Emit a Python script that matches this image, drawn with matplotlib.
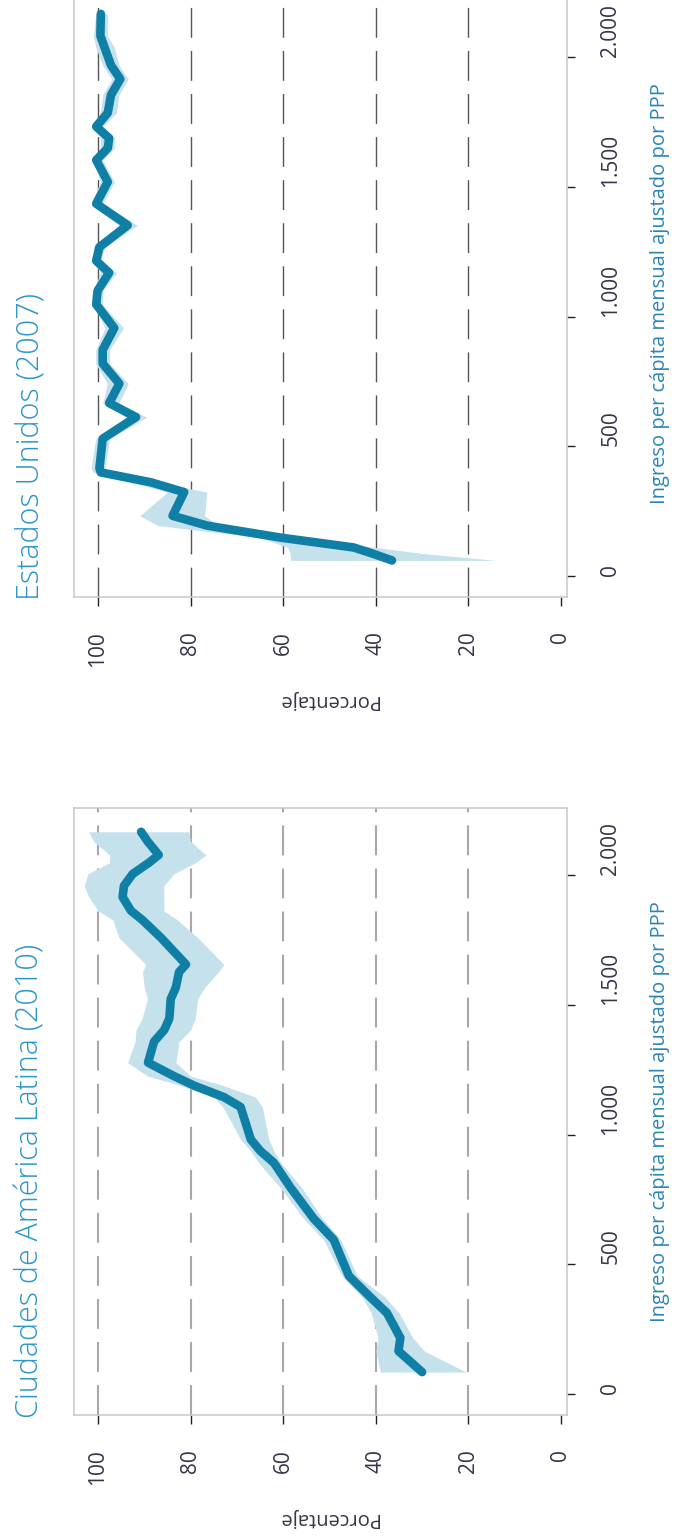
import matplotlib
matplotlib.use("Agg")
import matplotlib.pyplot as plt

plt.rcParams["font.family"] = ["Open Sans", "DejaVu Sans"]
plt.rcParams["lines.scale_dashes"] = False

# ── ejes ─────────────────────────────────────────────────────────────────
PCT_TICKS = [0, 20, 40, 60, 80, 100]
PCT_LABELS = ["0", "20", "40", "60", "80", "100"]
INC_TICKS = [0, 500, 1000, 1500, 2000]
INC_LABELS = ["0", "500", "1.000", "1.500", "2.000"]

# ── Ciudades de América Latina (2010) ────────────────────────────────────
al_ingreso = [85, 166, 217, 313, 374, 455, 595, 676, 795, 891, 936, 981,
              1106, 1144, 1188, 1225, 1277, 1358, 1403, 1447, 1522, 1566,
              1626, 1655, 1758, 1826, 1862, 1915, 1958, 2004, 2047, 2077,
              2129, 2166]
al_pct = [30.0, 35.1, 34.7, 37.6, 41.2, 45.8, 49.1, 53.4, 58.4, 62.0, 64.9,
          67.0, 69.2, 72.8, 79.2, 83.6, 89.2, 87.9, 85.7, 84.6, 84.3, 83.2,
          82.5, 81.0, 86.4, 90.4, 92.9, 94.7, 94.4, 92.5, 89.0, 86.9, 89.3,
          90.7]
al_sup = [39.0, 40.0, 39.5, 41.0, 43.0, 47.3, 51.3, 55.6, 60.6, 65.3, 67.0,
          69.2, 73.0, 75.0, 82.0, 89.3, 93.6, 92.0, 91.8, 90.5, 89.3, 90.0,
          90.4, 89.7, 95.5, 96.8, 100.0, 102.0, 103.0, 102.2, 97.5, 97.5,
          101.0, 102.0]
al_inf = [20.5, 29.5, 32.0, 35.0, 38.0, 44.0, 47.6, 51.5, 56.0, 60.5, 62.0,
          63.1, 64.5, 66.0, 72.8, 80.0, 83.2, 82.5, 80.0, 79.0, 78.5, 77.0,
          74.0, 72.8, 78.5, 82.8, 85.8, 85.8, 85.8, 83.6, 79.0, 76.7, 80.0,
          80.4]

# ── Estados Unidos (2007) ────────────────────────────────────────────────
us_ingreso = [61, 88, 111, 149, 195, 233, 324, 362, 400, 416, 530, 613, 667,
              742, 819, 872, 956, 1047, 1100, 1169, 1215, 1268, 1352, 1435,
              1519, 1603, 1649, 1687, 1732, 1785, 1854, 1915, 1968, 2037,
              2082, 2166]
us_pct = [36.5, 40.8, 44.8, 60.6, 76.4, 83.9, 81.4, 88.6, 99.4, 99.7, 99.0,
          91.8, 97.6, 95.4, 99.0, 99.0, 96.5, 100.4, 100.1, 97.6, 100.4, 99.7,
          93.6, 100.4, 97.9, 100.4, 97.9, 97.6, 100.4, 97.9, 97.2, 95.2, 97.2,
          98.6, 99.5, 99.4]
us_sup = [58.4, 58.5, 59.0, 65.0, 87.0, 91.0, 85.0, 93.0, 101.0, 101.5,
          100.5, 94.0, 99.0, 98.0, 100.5, 100.5, 98.5, 101.0, 101.0, 99.5,
          101.0, 101.0, 95.5, 101.5, 99.5, 101.0, 99.5, 99.5, 101.0, 99.5,
          99.0, 97.0, 99.0, 100.5, 101.0, 100.5]
us_inf = [14.0, 30.0, 40.0, 56.0, 74.0, 77.0, 76.5, 87.0, 97.5, 98.5, 97.5,
          89.5, 95.5, 93.5, 97.5, 97.5, 94.5, 99.0, 99.0, 96.0, 99.5, 98.5,
          91.5, 99.0, 96.5, 99.0, 96.5, 96.5, 99.0, 96.0, 95.5, 93.5, 95.5,
          96.5, 98.0, 98.0]

LINEA = "#0f7fa5"
BANDA = "#c4e1ec"
TITULO = "#2b96c9"
TEXTO = "#34344a"


def panel(ax, ingreso, pct, sup, inf, titulo, grid_color, grid_lw):
    for p in [20, 40, 60, 80, 100]:
        ax.axvline(p, color=grid_color, lw=grid_lw, dashes=(21.5, 9.5), zorder=1)
    ax.fill_betweenx(ingreso, inf, sup, color=BANDA, lw=0, zorder=2)
    ax.plot(pct, ingreso, color=LINEA, lw=6.2, solid_capstyle="round",
            solid_joinstyle="round", zorder=3)

    ax.set_xlim(105.2, -1.3)
    ax.set_ylim(-80, 2258)
    for s in ax.spines.values():
        s.set_color("#c8c8c8")
        s.set_linewidth(1.1)

    ax.set_xticks(PCT_TICKS, PCT_LABELS)
    ax.set_yticks(INC_TICKS, INC_LABELS)
    ax.yaxis.tick_right()
    ax.tick_params(axis="x", length=6.5, width=1.0, color="#222222", pad=18,
                   labelrotation=90, labelsize=15, labelcolor=TEXTO)
    ax.tick_params(axis="y", length=6.0, width=1.0, color="#222222", pad=18,
                   labelrotation=90, labelsize=15, labelcolor=TEXTO)
    for lab in ax.get_yticklabels():
        lab.set_verticalalignment("bottom")

    ax.text(0.515, -0.170, "Porcentaje", transform=ax.transAxes,
            rotation=180, ha="center", va="center", fontsize=14.5, color=TEXTO)
    ax.text(1.189, 0.5, "Ingreso per cápita mensual ajustado por PPP",
            transform=ax.transAxes, rotation=90, ha="center", va="center",
            fontsize=14.5, color="#2a86b6")
    ax.text(-0.089, -0.005, titulo, transform=ax.transAxes, rotation=90,
            ha="center", va="bottom", fontsize=22, color=TITULO,
            fontweight="light")


fig = plt.figure(figsize=(6.75, 15.38), dpi=100)
ax_us = fig.add_axes([0.1096, 0.6118, 0.7304, 0.3947])
ax_al = fig.add_axes([0.1096, 0.0800, 0.7304, 0.3947])

panel(ax_us, us_ingreso, us_pct, us_sup, us_inf, "Estados Unidos (2007)",
      "#555555", 1.0)
panel(ax_al, al_ingreso, al_pct, al_sup, al_inf,
      "Ciudades de América Latina (2010)", "#a8a8a8", 1.5)

fig.savefig("out.png", dpi=100)
